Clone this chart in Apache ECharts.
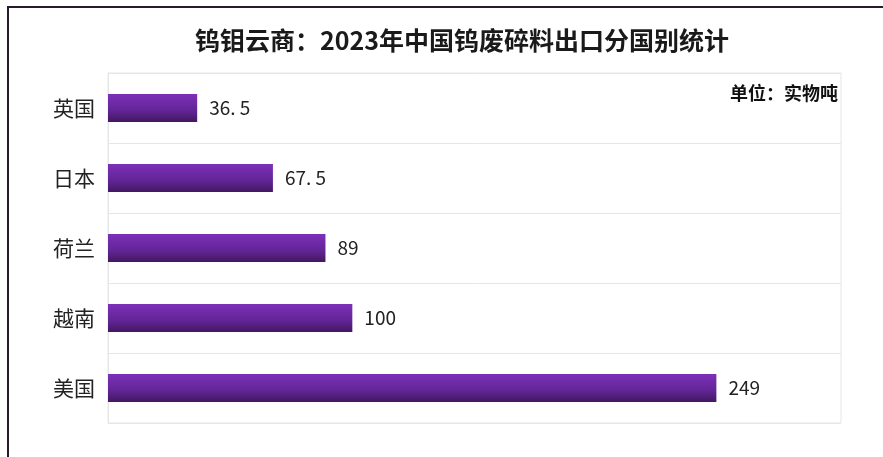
<!DOCTYPE html>
<html>
<head>
<meta charset="utf-8">
<script src="https://cdn.jsdelivr.net/npm/echarts@6/dist/echarts.min.js"></script>
<style>
  html, body { margin: 0; padding: 0; background: #fff; }
  #frame { position: absolute; left: 0; top: 0; width: 883px; height: 457px; }
  #border { position: absolute; left: 7px; top: 6px; right: -4px; bottom: -4px;
    border-left: 2px solid #2a1a2e; border-top: 2px solid #2a1a2e; pointer-events: none; }
  #chart { position: absolute; left: 0; top: 0; width: 883px; height: 457px; }
</style>
</head>
<body>
<div id="frame">
  <div id="chart"></div>
  <div id="border"></div>
</div>
<script>
// 数据
var countries = ["美国", "越南", "荷兰", "日本", "英国"];
var amounts = [249, 100, 89, 67.5, 36.5];

var chart = echarts.init(document.getElementById("chart"));
var option = {
  backgroundColor: "#fff",
  animation: false,
  title: [
    {
      text: "钨钼云商：2023年中国钨废碎料出口分国别统计",
      left: 190,
      top: 23,
      textStyle: {
        fontFamily: "Noto Sans CJK SC",
        fontSize: 25,
        fontWeight: "bold",
        color: "#1a1a1a"
      }
    },
    {
      text: "单位：实物吨",
      right: 40,
      top: 79,
      textStyle: {
        fontFamily: "Noto Sans CJK SC",
        fontSize: 18,
        fontWeight: "bold",
        color: "#111"
      }
    }
  ],
  grid: {
    left: 108,
    right: 42,
    top: 73,
    bottom: 34,
    show: true,
    borderColor: "#e6e6e6",
    borderWidth: 1
  },
  xAxis: {
    type: "value",
    min: 0,
    max: 300,
    axisLabel: { show: false },
    axisLine: { show: false },
    axisTick: { show: false },
    splitLine: { show: false }
  },
  yAxis: {
    type: "category",
    data: countries,
    axisLine: { show: true, lineStyle: { color: "#e6e6e6" } },
    axisTick: { show: false },
    axisLabel: {
      fontFamily: "Noto Sans CJK SC",
      fontSize: 21,
      color: "#222",
      margin: 13
    },
    splitLine: { show: true, lineStyle: { color: "#e6e6e6" } }
  },
  series: [
    {
      type: "bar",
      data: amounts,
      barWidth: 28,
      itemStyle: {
        color: new echarts.graphic.LinearGradient(0, 0, 0, 1, [
          { offset: 0, color: "#7d30b8" },
          { offset: 0.6, color: "#612596" },
          { offset: 1, color: "#43175f" }
        ])
      },
      label: {
        show: true,
        position: "right",
        distance: 12,
        fontFamily: "Noto Sans CJK SC",
        fontSize: 19,
        color: "#222",
        formatter: function (p) {
          return String(p.value).replace(".", ". ");
        }
      }
    }
  ]
};
chart.setOption(option);
</script>
</body>
</html>
